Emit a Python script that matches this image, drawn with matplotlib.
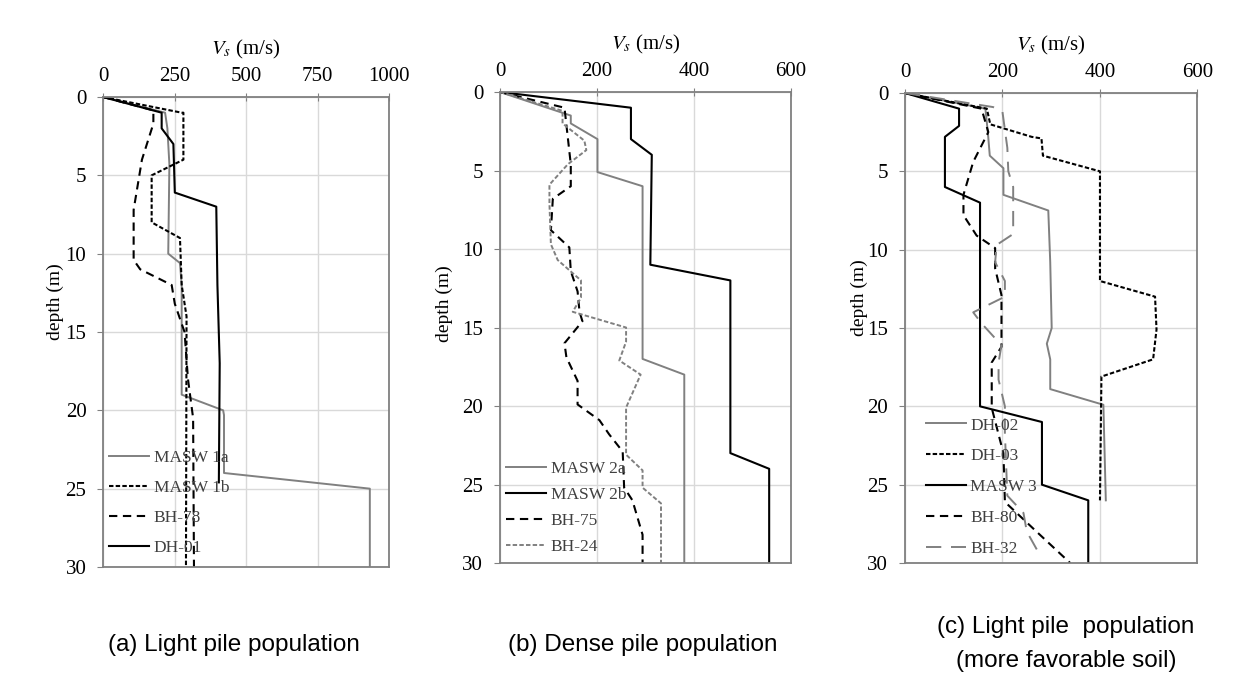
import matplotlib
matplotlib.use("Agg")
import matplotlib.pyplot as plt

plt.rcParams['font.family'] = ['Liberation Serif', 'DejaVu Serif']
plt.rcParams['mathtext.fontset'] = 'stix'
plt.rcParams['lines.scale_dashes'] = False

# ---- panel (a) light pile population ----
a_names = ["MASW 1a", "MASW 1b", "BH-78", "DH-01"]
a_masw1a_v = [0, 217, 225, 232, 228, 269, 275, 275, 420, 423, 423, 933, 933]
a_masw1a_d = [0, 1, 2, 4.3, 10, 10.6, 12, 19, 20, 20.3, 24, 25, 30]
a_masw1b_v = [0, 275, 281, 281, 170, 170, 269, 275, 292, 290]
a_masw1b_d = [0, 1, 1, 4, 5, 8, 9, 12, 14, 30]
a_bh78_v = [0, 176, 176, 136, 107, 107, 130, 240, 251, 285, 297, 315, 318]
a_bh78_d = [0, 0.85, 1.7, 4, 7.2, 10.4, 11, 12, 13.2, 15, 18, 20.5, 30]
a_dh01_v = [0, 205, 205, 246, 251, 396, 400, 408, 405]
a_dh01_d = [0, 1, 2, 3, 6.1, 7, 12, 17, 24.6]

# ---- panel (b) dense pile population ----
b_names = ["MASW 2a", "MASW 2b", "BH-75", "BH-24"]
b_masw2a_v = [0, 146, 146, 201, 201, 294, 294, 380, 380]
b_masw2a_d = [0, 1.5, 2, 3, 5.1, 6, 17, 18, 30]
b_masw2b_v = [0, 270, 270, 313, 310, 475, 475, 555, 555]
b_masw2b_d = [0, 1, 3, 4, 11, 12, 23, 24, 30]
b_bh75_v = [0, 133, 146, 146, 109, 105, 143, 146, 160, 164, 170, 133, 137, 160, 160,
            205, 225, 253, 256, 273, 294, 294]
b_bh75_d = [0, 1, 4.6, 6, 6.8, 8.8, 9.9, 11.4, 12.7, 14, 14.6, 16, 16.9, 18.4, 19.9,
            20.9, 21.8, 22.9, 25.2, 26, 28.2, 30]
b_bh24_v = [0, 129, 129, 174, 178, 140, 102, 102, 105, 119, 167, 167, 150, 260, 260,
            246, 290, 260, 260, 294, 294, 332, 332]
b_bh24_d = [0, 1.2, 2, 3.1, 3.7, 4.6, 5.9, 7.1, 9.7, 10.7, 12, 13.1, 14, 15, 15.9,
            17.1, 18, 20.1, 23.1, 24.1, 25.2, 26.2, 30]

# ---- panel (c) light pile population, more favorable soil ----
c_names = ["DH-02", "DH-03", "MASW 3", "BH-80", "BH-32"]
c_dh02_v = [0, 165, 170, 174, 202, 202, 294, 298, 301, 291, 298, 298, 407, 412]
c_dh02_d = [0, 1, 2.5, 4, 4.8, 6.5, 7.5, 10.8, 15, 16, 17, 18.9, 19.9, 26]
c_dh03_v = [0, 168, 175, 260, 280, 283, 400, 400, 513, 516, 509, 403, 400]
c_dh03_d = [0, 1, 2, 2.8, 2.9, 4, 5, 12, 13, 15.1, 17, 18.1, 26]
c_masw3_v = [0, 111, 111, 82, 82, 154, 154, 281, 281, 376, 376]
c_masw3_d = [0, 1, 2.1, 2.8, 6, 7, 20, 21, 25, 26, 30]
c_bh80_v = [0, 157, 171, 140, 120, 120, 147, 185, 185, 198, 198, 178, 178, 202, 205, 270, 339]
c_bh80_d = [0, 1, 2.5, 4.4, 6.5, 7.8, 9.1, 9.9, 11.2, 12.9, 16.2, 17.2, 20.1, 23, 26.1, 28, 30]
c_bh32_v = [0, 181, 200, 210, 212, 222, 222, 188, 185, 205, 205, 140, 157, 198, 192, 192,
            205, 205, 210, 243, 250, 277]
c_bh32_d = [0, 0.9, 1.2, 3.5, 5, 6, 9, 9.7, 10.8, 12, 13, 14, 14.7, 16.1, 17.2, 18.3,
            20, 21.7, 25.7, 26.8, 28, 29.5]

captions = ["(a) Light pile population", "(b) Dense pile population",
            "(c) Light pile  population\n(more favorable soil)"]

black = "black"
gray = "#808080"
solid = dict(linestyle="-")
short_dash = dict(dashes=(3.2, 1.6))
long_dash = dict(dashes=(6, 4))
longer_dash = dict(dashes=(11, 7))

fig = plt.figure(figsize=(12.4, 6.95), dpi=100)


def setup(ax, xmax, xstep, ylab_xy):
    ax.set_xlim(0, xmax)
    ax.set_ylim(30, 0)
    ax.set_xticks(range(0, xmax + 1, xstep))
    ax.set_yticks(range(0, 31, 5))
    ax.xaxis.tick_top()
    ax.xaxis.set_label_position("top")
    ax.set_xlabel("$V_s$ (m/s)", fontsize=15, labelpad=9)
    ax.set_ylabel("depth (m)", fontsize=14)
    ax.yaxis.set_label_coords(*ylab_xy)
    ax.grid(color="#d9d9d9", linewidth=1)
    ax.set_axisbelow(True)
    for s in ax.spines.values():
        s.set_color(gray)
        s.set_linewidth(1.3)
    ax.tick_params(axis="x", direction="inout", length=6, color=gray, labelsize=15, pad=5)
    ax.tick_params(axis="y", direction="out", length=4, color=gray, labelsize=15, pad=8)


def add_legend(ax, spacing, anchor):
    ax.legend(loc="lower left", frameon=False, fontsize=12.5, labelspacing=spacing,
              handlelength=2.3, handletextpad=0.25, borderaxespad=0.0, borderpad=0.2,
              labelcolor="#404040", bbox_to_anchor=anchor)


# (a)
ax1 = fig.add_axes([0.0831, 0.1842, 0.2306, 0.6762])
setup(ax1, 1000, 250, (-0.135, 0.565))
ax1.plot(a_masw1a_v, a_masw1a_d, color=gray, lw=1.4, label=a_names[0], **solid)
ax1.plot(a_masw1b_v, a_masw1b_d, color=black, lw=1.5, label=a_names[1], **short_dash)
ax1.plot(a_bh78_v, a_bh78_d, color=black, lw=1.5, label=a_names[2], **long_dash)
ax1.plot(a_dh01_v, a_dh01_d, color=black, lw=1.5, label=a_names[3], **solid)
add_legend(ax1, 0.8, (0.01, 0.016))

# (b)
ax2 = fig.add_axes([0.4032, 0.1899, 0.2347, 0.6777])
setup(ax2, 600, 200, (-0.16, 0.55))
ax2.plot(b_masw2a_v, b_masw2a_d, color=gray, lw=1.4, label=b_names[0], **solid)
ax2.plot(b_masw2b_v, b_masw2b_d, color=black, lw=1.5, label=b_names[1], **solid)
ax2.plot(b_bh75_v, b_bh75_d, color=black, lw=1.5, label=b_names[2], **long_dash)
ax2.plot(b_bh24_v, b_bh24_d, color=gray, lw=1.4, label=b_names[3], **short_dash)
add_legend(ax2, 0.58, (0.01, 0.009))

# (c)
ax3 = fig.add_axes([0.7298, 0.1899, 0.2359, 0.6763])
setup(ax3, 600, 200, (-0.125, 0.565))
ax3.plot(c_dh02_v, c_dh02_d, color=gray, lw=1.4, label=c_names[0], **solid)
ax3.plot(c_dh03_v, c_dh03_d, color=black, lw=1.5, label=c_names[1], **short_dash)
ax3.plot(c_masw3_v, c_masw3_d, color=black, lw=1.5, label=c_names[2], **solid)
ax3.plot(c_bh80_v, c_bh80_d, color=black, lw=1.5, label=c_names[3], **long_dash)
ax3.plot(c_bh32_v, c_bh32_d, color=gray, lw=1.4, label=c_names[4], **longer_dash)
add_legend(ax3, 0.85, (0.06, 0.005))

cap_font = ['Liberation Sans', 'DejaVu Sans']
fig.text(234 / 1240, 1 - 645 / 695, captions[0], ha="center", va="center",
         family=cap_font, fontsize=17.5)
fig.text(643 / 1240, 1 - 645 / 695, captions[1], ha="center", va="center",
         family=cap_font, fontsize=17.5)
fig.text(1066 / 1240, 1 - 644 / 695, captions[2], ha="center", va="center",
         family=cap_font, fontsize=17.5, linespacing=1.75)

fig.savefig("out.png", dpi=100)
